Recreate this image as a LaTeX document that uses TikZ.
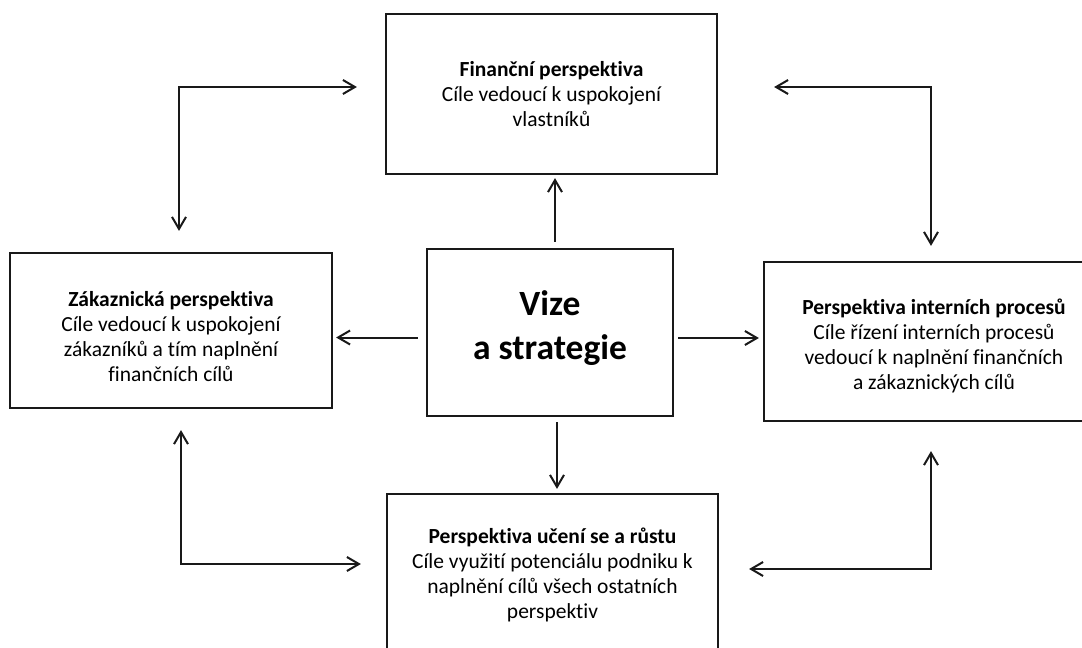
\documentclass[tikz,border=0pt]{standalone}
\usepackage{fontspec}
\setmainfont{Carlito}[Ligatures={NoCommon}]
\usetikzlibrary{arrows.meta}
\begin{document}
\begin{tikzpicture}[x=1pt,y=-1pt,
  box/.style={draw=black!90, line width=2.2pt, fill=white, align=center,
    inner sep=0pt, font=\fontsize{21.5}{25}\selectfont},
  txt/.style={align=center, inner sep=0pt, font=\fontsize{21.5}{25}\selectfont},
  arr/.style={line width=2pt, draw=black!90, -{Straight Barb[length=12pt,width=14pt,line width=2pt]}},
  arrs/.style={line width=2pt, draw=black!90, {Straight Barb[length=12pt,width=14pt,line width=2pt]}-{Straight Barb[length=12pt,width=14pt,line width=2pt]}}]
\useasboundingbox (0,0) rectangle (1082,648);
\clip (0,0) rectangle (1082,648);
\fill[white] (0,0) rectangle (1082,648);
\node[box, minimum width=331pt, minimum height=160pt] (fin) at (551.5,94)
  {\textbf{Finanční perspektiva}\\Cíle vedoucí k uspokojení\\vlastníků};
\node[box, minimum width=322pt, minimum height=155pt] (cust) at (171,330.5) {};
\node[txt] (custtext) at ([yshift=-6pt]cust.center)
  {\textbf{Zákaznická perspektiva}\\Cíle vedoucí k uspokojení\\zákazníků a tím naplnění\\finančních cílů};
\node[box, minimum width=246pt, minimum height=167pt] (vize) at (550,332.5) {};
\node[txt, font=\fontsize{35.5}{44}\selectfont\bfseries] (vizetext) at ([yshift=4pt]vize.center)
  {Vize\\a strategie};
\node[box, minimum width=340pt, minimum height=159pt] (intl) at (934,341.5) {};
\node[txt] (intltext) at ([yshift=-4pt]intl.center)
  {\textbf{Perspektiva interních procesů}\\Cíle řízení interních procesů\\vedoucí k naplnění finančních\\a zákaznických cílů};
\node[box, minimum width=331pt, minimum height=162pt] (learn) at (552.5,575)
  {\textbf{Perspektiva učení se a růstu}\\Cíle využití potenciálu podniku k\\naplnění cílů všech ostatních\\perspektiv};
\coordinate (tl) at (179,87);
\coordinate (tr) at (931,87);
\coordinate (bl) at (181,564);
\coordinate (br) at (931,569);
% straight connectors
\draw[arr, shorten <=6pt, shorten >=3pt] ([xshift=5pt]vize.north) -- ([xshift=5pt]vize.north |- fin.south);
\draw[arr, shorten <=8pt, shorten >=3pt] ([yshift=-5pt]vize.west) -- ([yshift=-5pt]vize.west -| cust.east);
\draw[arr, shorten <=4pt, shorten >=4pt] ([yshift=-5.5pt]vize.east) -- ([yshift=-5.5pt]vize.east -| intl.west);
\draw[arr, shorten <=5pt, shorten >=4pt] ([xshift=7pt]vize.south) -- ([xshift=7pt]vize.south |- learn.north);
% elbow connectors
\draw[arrs, shorten <=21pt, shorten >=28pt] (tl |- cust.north) -- (tl) -- (tl -| fin.west);
\draw[arrs, shorten <=56pt, shorten >=15pt] (tr -| fin.east) -- (tr) -- (tr |- intl.north);
\draw[arrs, shorten <=21pt, shorten >=25pt] (bl |- cust.south) -- (bl) -- (bl -| learn.west);
\draw[arrs, shorten <=29pt, shorten >=30pt] (br |- intl.south) -- (br) -- (br -| learn.east);
\end{tikzpicture}
\end{document}
